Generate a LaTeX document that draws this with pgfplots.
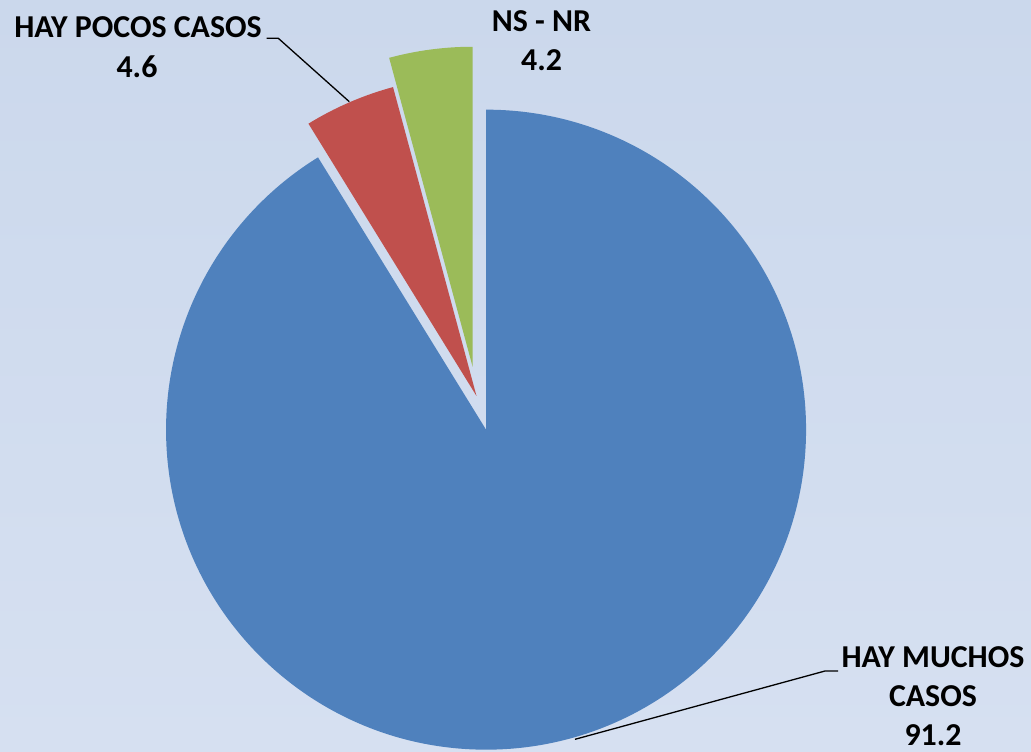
\documentclass[border=0pt]{standalone}
\usepackage{pgfplots}
\pgfplotsset{compat=1.18}
\usepackage{fontspec}
\setmainfont{Carlito}
\definecolor{pieblue}{RGB}{79,129,189}
\definecolor{piered}{RGB}{192,80,77}
\definecolor{piegreen}{RGB}{155,187,89}
\definecolor{bgtop}{RGB}{203,216,236}
\definecolor{bgmid}{RGB}{193,210,237}
\definecolor{bgbot}{RGB}{214,224,241}
\newcommand{\lbl}{\bfseries\fontsize{32}{39}\selectfont}

\begin{document}
\begin{tikzpicture}
\begin{axis}[
  width=1031bp, height=751bp, scale only axis,
  xmin=0, xmax=1031, ymin=0, ymax=751,
  hide axis, clip=false
]
% background
\shade[top color=bgtop, middle color=bgmid, bottom color=bgbot]
  (axis cs:0,0) rectangle (axis cs:1031,751);
% slices: 91.2, 4.6, 4.2 (percent), clockwise from the top
\fill[pieblue] (axis cs:476.5,355) ++(90-3.6*45.6:35bp) -- ++(90:320bp)
  arc[start angle=90, delta angle=-3.6*91.2, radius=320bp] -- cycle;
\fill[piered] (axis cs:476.5,355) -- ++(90-3.6*91.2:320bp)
  arc[start angle=90-3.6*91.2, delta angle=-3.6*4.6, radius=320bp] -- cycle;
\fill[piegreen] (axis cs:476.5,355) ++(90-3.6*97.9:29.5bp) -- ++(90-3.6*95.8:320bp)
  arc[start angle=90-3.6*95.8, delta angle=-3.6*4.2, radius=320bp] -- cycle;
% leader lines
\draw[black, line width=1.3bp] (axis cs:266.7,712.7) -- (axis cs:278.3,712.7) -- (axis cs:349.3,649.3);
\draw[black, line width=1.3bp] (axis cs:575,11.7) -- (axis cs:825,80) -- (axis cs:838,80);
% labels
\node[anchor=base, inner sep=0pt] at (axis cs:138,713.7) {\lbl HAY POCOS CASOS};
\node[anchor=base, inner sep=0pt] at (axis cs:137,673.7) {\lbl 4.6};
\node[anchor=base, inner sep=0pt] at (axis cs:541.5,719.3) {\lbl NS - NR};
\node[anchor=base, inner sep=0pt] at (axis cs:541.5,680) {\lbl 4.2};
\node[anchor=base, inner sep=0pt] at (axis cs:933,84) {\lbl HAY MUCHOS};
\node[anchor=base, inner sep=0pt] at (axis cs:933,45) {\lbl CASOS};
\node[anchor=base, inner sep=0pt] at (axis cs:933,6) {\lbl 91.2};
\end{axis}
\end{tikzpicture}
\end{document}
